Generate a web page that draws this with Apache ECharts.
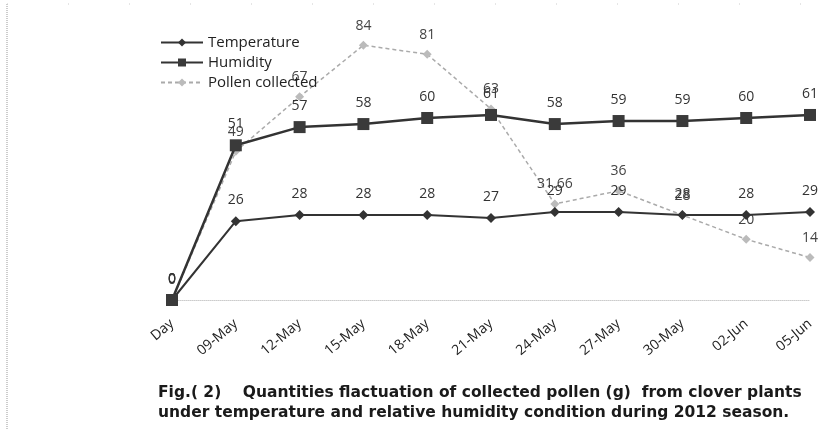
<!DOCTYPE html>
<html>
<head>
    <meta charset="utf-8">
    <script src="https://cdn.jsdelivr.net/npm/echarts@6/dist/echarts.min.js"></script>
    <style>
        html, body { margin: 0; padding: 0; background: #fff; }
        #main { width: 826px; height: 433px; }
    </style>
</head>
<body>
    <div id="main"></div>
    <script>
        // data
        var days = ['Day', '09-May', '12-May', '15-May', '18-May', '21-May', '24-May', '27-May', '30-May', '02-Jun', '05-Jun'];
        var temperature = [0, 26, 28, 28, 28, 27, 29, 29, 28, 28, 29];
        var humidity = [0, 51, 57, 58, 60, 61, 58, 59, 59, 60, 61];
        var pollen = [0, 49, 67, 84, 81, 63, 31.66, 36, 28, 20, 14];

        var chart = echarts.init(document.getElementById('main'));
        var fontFam = 'Open Sans';

        var option = {
            animation: false,
            backgroundColor: '#fff',
            title: {
                text: 'Fig.( 2)    Quantities flactuation of collected pollen (g)  from clover plants\nunder temperature and relative humidity condition during 2012 season.',
                left: 153,
                top: 378,
                textStyle: {
                    fontFamily: 'DejaVu Sans',
                    fontSize: 15.5,
                    fontWeight: 'bold',
                    color: '#1a1a1a',
                    lineHeight: 20
                }
            },
            legend: {
                orient: 'vertical',
                left: 155,
                top: 30,
                itemGap: 5,
                itemWidth: 42,
                itemHeight: 10,
                textStyle: { fontFamily: fontFam, fontSize: 15, color: '#222' },
                data: ['Temperature', 'Humidity', 'Pollen collected']
            },
            grid: { left: 172, right: 16, top: 27, bottom: 133 },
            xAxis: {
                type: 'category',
                boundaryGap: false,
                data: days,
                axisLine: { show: true, lineStyle: { color: '#ccc', type: 'dotted', width: 1 } },
                axisTick: { show: false },
                axisLabel: {
                    rotate: 40,
                    margin: 22,
                    fontFamily: fontFam,
                    fontSize: 14,
                    color: '#222'
                }
            },
            yAxis: {
                type: 'value',
                min: 0,
                max: 90,
                show: false,
                splitLine: { show: false }
            },
            series: [
                {
                    name: 'Temperature',
                    type: 'line',
                    data: temperature,
                    symbol: 'diamond',
                    symbolSize: 10,
                    itemStyle: { color: '#333' },
                    lineStyle: { color: '#333', width: 2 },
                    label: {
                        show: true,
                        position: 'top',
                        distance: 9,
                        fontFamily: fontFam,
                        fontSize: 14,
                        color: '#333'
                    },
                    z: 3
                },
                {
                    name: 'Humidity',
                    type: 'line',
                    data: humidity,
                    symbol: 'rect',
                    symbolSize: 12,
                    itemStyle: { color: '#3a3a3a' },
                    lineStyle: { color: '#333', width: 2.5 },
                    label: {
                        show: true,
                        position: 'top',
                        distance: 8,
                        fontFamily: fontFam,
                        fontSize: 14,
                        color: '#333'
                    },
                    z: 4
                },
                {
                    name: 'Pollen collected',
                    type: 'line',
                    data: pollen,
                    symbol: 'diamond',
                    symbolSize: 9,
                    itemStyle: { color: '#bbb' },
                    lineStyle: { color: '#aaa', width: 1.5, type: [4, 3] },
                    label: {
                        show: true,
                        position: 'top',
                        distance: 8,
                        fontFamily: fontFam,
                        fontSize: 14,
                        color: '#444'
                    },
                    z: 2
                }
            ],
            graphic: [
                {
                    type: 'line',
                    shape: { x1: 7, y1: 4, x2: 7, y2: 430 },
                    style: { stroke: '#999', lineWidth: 1, lineDash: [1, 1] }
                },
                {
                    type: 'line',
                    shape: { x1: 7, y1: 4, x2: 822, y2: 4 },
                    style: { stroke: '#ccc', lineWidth: 1, lineDash: [1, 60] }
                }
            ]
        };
        chart.setOption(option);
    </script>
</body>
</html>
